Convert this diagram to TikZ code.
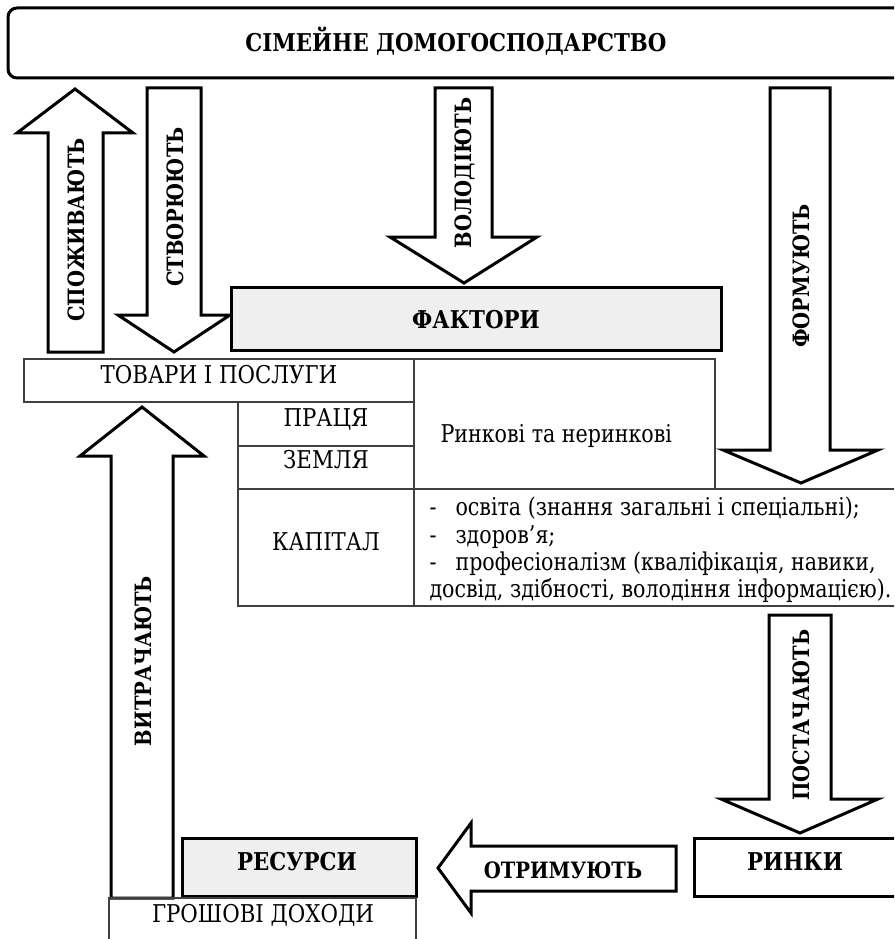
\documentclass[tikz,border=0pt]{standalone}
\usepackage{fontspec}
\newfontfamily\timesfont{DejaVu Serif}[FakeStretch=0.84]
\newfontfamily\timescaps{DejaVu Serif}[FakeStretch=0.87]
\usepackage{tikz}

\definecolor{boxgrey}{HTML}{EFEFEF}
\tikzset{
  blockarrow/.style={draw=black, line width=3pt, fill=white, line join=miter},
  thickbox/.style={draw=black, line width=3pt},
  cellbox/.style={draw=black!75, line width=1.2pt},
  arrowlabel/.style={font=\timescaps\fontsize{22.5}{22.5}\selectfont\bfseries},
  uplabel/.style={arrowlabel, rotate=90},
  boxlabel/.style={font=\timescaps\fontsize{24.5}{24.5}\selectfont\bfseries},
  captext/.style={font=\timescaps\fontsize{24.5}{24.5}\selectfont},
  celltext/.style={font=\timesfont\fontsize{24.5}{27.3}\selectfont}
}

\begin{document}
\begin{tikzpicture}[x=1pt,y=-1pt]
\useasboundingbox (0,0) rectangle (894,939);
\clip (0,0) rectangle (894,939);

\draw[thickbox, rounded corners=9pt] (8,8) rectangle (904,78);
\node[boxlabel, anchor=base] (household) at (456,52) {СІМЕЙНЕ ДОМОГОСПОДАРСТВО};

\draw[blockarrow] (48,352) -- (48,133) -- (17,133) -- (75,89) -- (133,133) -- (103,133) -- (103,352) -- cycle;
\draw[blockarrow] (147,88) -- (201,88) -- (201,315) -- (230,315) -- (174,352) -- (118,315) -- (147,315) -- cycle;
\draw[blockarrow] (435,88) -- (492,88) -- (492,237) -- (537,237) -- (464,283) -- (390,237) -- (435,237) -- cycle;
\draw[blockarrow] (770,88) -- (830,88) -- (830,450) -- (878,450) -- (801,483) -- (723,450) -- (770,450) -- cycle;
\draw[blockarrow] (111,898) -- (111,456) -- (80,456) -- (142,407) -- (204,456) -- (173,456) -- (173,898) -- cycle;
\draw[blockarrow] (769,615) -- (831,615) -- (831,799) -- (878,799) -- (800,833) -- (721,799) -- (769,799) -- cycle;
\draw[blockarrow] (676,846) -- (471,846) -- (471,823) -- (438,868) -- (471,913) -- (471,891) -- (676,891) -- cycle;

\node[uplabel] (consume) at (76,230) {СПОЖИВАЮТЬ};
\node[uplabel] (create) at (175,207) {СТВОРЮЮТЬ};
\node[uplabel] (own) at (465,173) {ВОЛОДІЮТЬ};
\node[uplabel] (form) at (801,276) {ФОРМУЮТЬ};
\node[uplabel] (spend) at (143,661) {ВИТРАЧАЮТЬ};
\node[uplabel] (supply) at (801,715) {ПОСТАЧАЮТЬ};
\node[arrowlabel] (receive) at (563,870) {ОТРИМУЮТЬ};

\draw[thickbox, fill=boxgrey] (231,287) rectangle (721,350);
\node[boxlabel, anchor=base] (factors) at (476,328) {ФАКТОРИ};

\draw[cellbox] (24,359) rectangle (414,402);
\draw[cellbox] (414,359) rectangle (715,489);
\draw[cellbox] (238,402) rectangle (414,446);
\draw[cellbox] (238,446) rectangle (414,489);
\draw[cellbox] (238,489) rectangle (414,606);
\draw[cellbox] (414,489) rectangle (910,606);

\node[captext, anchor=base] (goods) at (219,383) {ТОВАРИ І ПОСЛУГИ};
\node[captext, anchor=base] (labour) at (326,426) {ПРАЦЯ};
\node[captext, anchor=base] (land) at (326,468) {ЗЕМЛЯ};
\node[captext, anchor=base] (capital) at (326,550) {КАПІТАЛ};
\node[celltext, anchor=base west] (marketkind) at (437,442) {Ринкові та неринкові};
\node[celltext, anchor=base west] (skill1) at (426,515) {\makebox[26pt][l]{-}освіта (знання загальні і спеціальні);};
\node[celltext, anchor=base west] (skill2) at (426,543) {\makebox[26pt][l]{-}здоров’я;};
\node[celltext, anchor=base west] (skill3) at (426,570) {\makebox[26pt][l]{-}професіоналізм (кваліфікація, навики,};
\node[celltext, anchor=base west] (skill4) at (426,597) {досвід, здібності, володіння інформацією).};

\draw[thickbox, fill=boxgrey] (182,838) rectangle (416,896);
\node[boxlabel, anchor=base] (resources) at (297,870) {РЕСУРСИ};
\draw[thickbox, fill=white] (694,838) rectangle (910,896);
\node[boxlabel, anchor=base] (markets) at (795,870) {РИНКИ};
\draw[cellbox] (109,898) rectangle (416,950);
\node[captext, anchor=base] (income) at (263,922) {ГРОШОВІ ДОХОДИ};
\end{tikzpicture}
\end{document}
